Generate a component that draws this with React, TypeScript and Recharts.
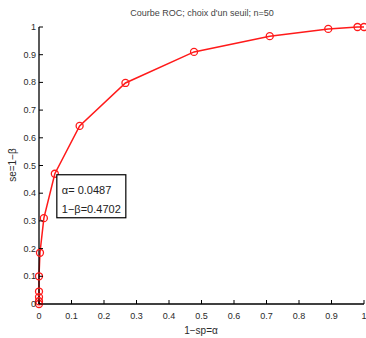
import {
  Line,
  LineChart,
  ReferenceDot,
  XAxis,
  YAxis,
} from "recharts";

// 1-sp (alpha) and se (1-beta)
const alpha = [0, 0, 0, 0, 0, 0.003, 0.015, 0.0487, 0.125, 0.266, 0.477, 0.71, 0.89, 0.98, 1];
const sens = [0, 0.01, 0.025, 0.045, 0.1, 0.185, 0.31, 0.4702, 0.643, 0.798, 0.91, 0.967, 0.993, 1, 1];
const ticks = [0, 0.1, 0.2, 0.3, 0.4, 0.5, 0.6, 0.7, 0.8, 0.9, 1];
const tipAlpha = 0.0487;
const tipSens = 0.4702;

const data = alpha.map((a, i) => ({ a, se: sens[i] }));

const TXT = "#2a2a2a";
const FONT = "Liberation Sans, Arial, sans-serif";

function BottomTick({ x, y, payload }: any) {
  return (
    <g>
      <line x1={x} y1={y} x2={x} y2={y - 4} stroke="#000" strokeWidth={1} />
      <text x={x} y={y + 15} textAnchor="middle" fontSize={9} fill={TXT} fontFamily={FONT}>
        {String(payload.value)}
      </text>
    </g>
  );
}

function TopTick({ x, y }: any) {
  return <line x1={x} y1={y} x2={x} y2={y + 4} stroke="#000" strokeWidth={1} />;
}

function LeftTick({ x, y, payload }: any) {
  return (
    <g>
      <line x1={x} y1={y} x2={x + 4} y2={y} stroke="#000" strokeWidth={1} />
      <text x={x - 3} y={y + 3} textAnchor="end" fontSize={9} fill={TXT} fontFamily={FONT}>
        {String(payload.value)}
      </text>
    </g>
  );
}

function RightTick({ x, y }: any) {
  return <line x1={x} y1={y} x2={x - 4} y2={y} stroke="#000" strokeWidth={1} />;
}

function TipBox({ viewBox }: any) {
  const cx = viewBox.x + viewBox.width / 2;
  const cy = viewBox.y + viewBox.height / 2;
  return (
    <g fontFamily={FONT} fontSize={11} fill="#222">
      <rect x={cx + 2} y={cy + 1} width={69} height={43} fill="#fff" stroke="#000" strokeWidth={1.2} />
      <text x={cx + 7} y={cy + 20}>α= {tipAlpha}</text>
      <text x={cx + 7} y={cy + 39}>1−β={tipSens}</text>
    </g>
  );
}

export default function App() {
  return (
    <div style={{ position: "absolute", left: 0, top: 0, width: 366, height: 338, background: "#fff" }}>
      <LineChart width={366} height={338} data={data} margin={{ top: 27, right: 2, bottom: 0, left: 0 }}>
        <XAxis
          xAxisId="b"
          dataKey="a"
          type="number"
          domain={[0, 1]}
          ticks={ticks}
          interval={0}
          tickLine={false}
          tickSize={0}
          tickMargin={0}
          height={34}
          axisLine={{ stroke: "#000", strokeWidth: 1.3 }}
          tick={<BottomTick />}
        />
        <XAxis
          xAxisId="t"
          orientation="top"
          dataKey="a"
          type="number"
          domain={[0, 1]}
          ticks={ticks}
          interval={0}
          tickLine={false}
          tickSize={0}
          tickMargin={0}
          height={0}
          axisLine={{ stroke: "#000", strokeWidth: 1.3 }}
          tick={<TopTick />}
        />
        <YAxis
          yAxisId="l"
          type="number"
          domain={[0, 1]}
          ticks={ticks}
          interval={0}
          tickLine={false}
          tickSize={0}
          tickMargin={0}
          width={39}
          axisLine={{ stroke: "#000", strokeWidth: 1.3 }}
          tick={<LeftTick />}
        />
        <YAxis
          yAxisId="r"
          orientation="right"
          type="number"
          domain={[0, 1]}
          ticks={ticks}
          interval={0}
          tickLine={false}
          tickSize={0}
          tickMargin={0}
          width={0}
          axisLine={{ stroke: "#000", strokeWidth: 1.3 }}
          tick={<RightTick />}
        />
        <Line
          xAxisId="b"
          yAxisId="l"
          dataKey="se"
          stroke="#ff1a1a"
          strokeWidth={1.5}
          dot={{ r: 3.5, fill: "none", stroke: "#ff1a1a", strokeWidth: 1.3 }}
          isAnimationActive={false}
        />
        <ReferenceDot
          xAxisId="b"
          yAxisId="l"
          x={tipAlpha}
          y={tipSens}
          r={1}
          fill="none"
          stroke="none"
          label={<TipBox />}
        />
        <text x={202} y={16} textAnchor="middle" fontSize={9} fill="#444" fontFamily={FONT}>
          Courbe ROC; choix d'un seuil; n=50
        </text>
        <text x={201} y={334} textAnchor="middle" fontSize={10} fill={TXT} fontFamily={FONT}>
          1−sp=α
        </text>
        <text
          x={16}
          y={165}
          textAnchor="middle"
          fontSize={10}
          fill={TXT}
          fontFamily={FONT}
          transform="rotate(-90 16 165)"
        >
          se=1−β
        </text>
      </LineChart>
    </div>
  );
}
